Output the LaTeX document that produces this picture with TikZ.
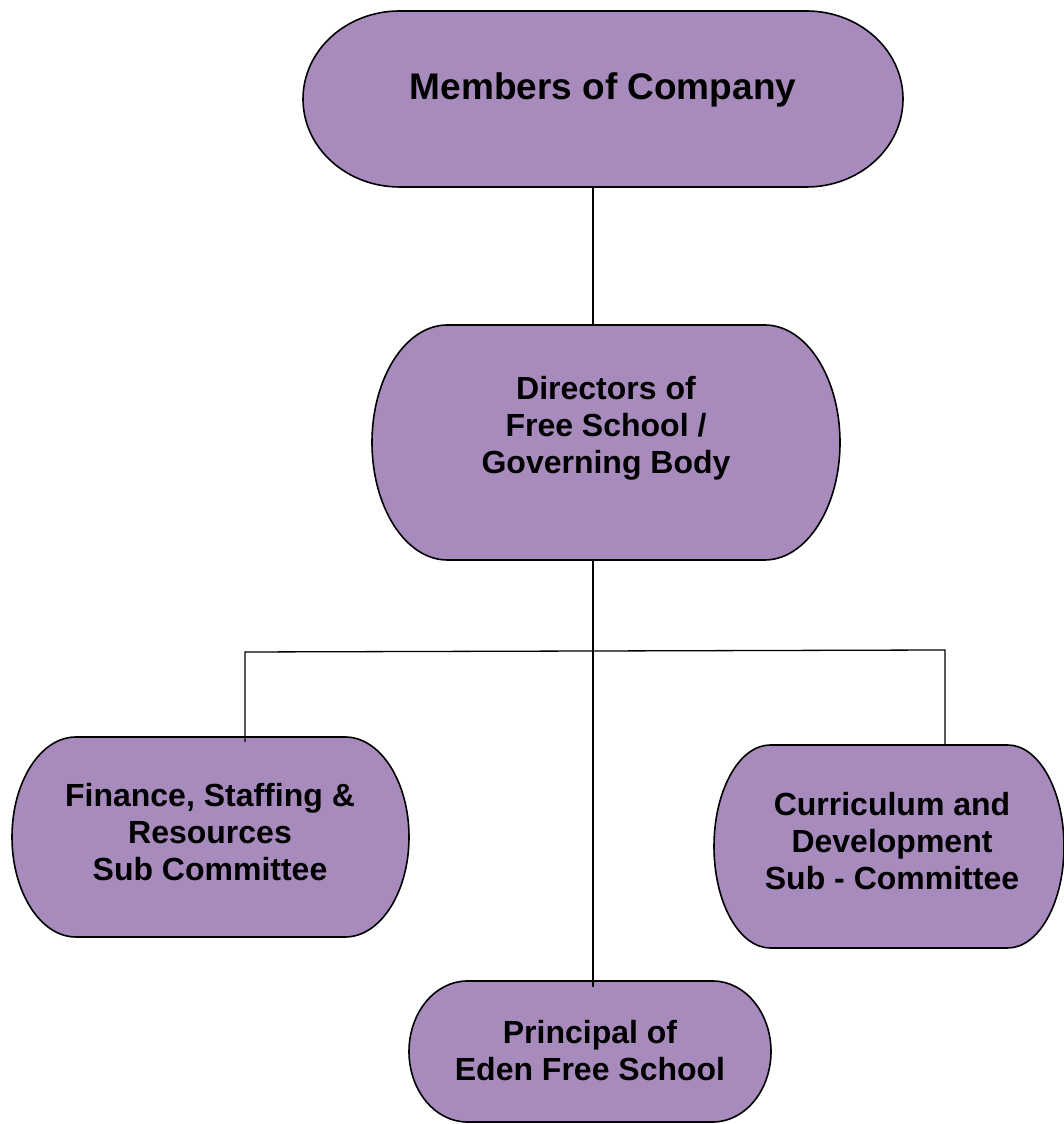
\documentclass[tikz,border=0pt]{standalone}
\usepackage{fontspec}
\setmainfont{Liberation Sans}
\usetikzlibrary{calc}
\definecolor{boxfill}{RGB}{168,139,189}
\tikzset{
  boxline/.style={draw=black, fill=boxfill, line width=1.6pt},
  frame/.style={draw=none, inner sep=0pt, outer sep=0pt},
  txt/.style={align=center, inner sep=0pt, font=\bfseries\fontsize{32}{37}\selectfont},
  bigtxt/.style={align=center, inner sep=0pt, font=\bfseries\fontsize{37}{42}\selectfont},
  conn/.style={draw=black, line width=1.3pt}
}
% name, cx, cy, w, h : terminator shape with half-ellipse ends
\newcommand\termbox[5]{%
  \pgfmathsetmacro\trx{0.161*#4}%
  \pgfmathsetmacro\try{#5/2}%
  \path[boxline] ({#2-#4/2+\trx},{#3+\try}) -- ({#2+#4/2-\trx},{#3+\try})
     arc[start angle=90, end angle=-90, x radius=\trx pt, y radius=\try pt]
     -- ({#2-#4/2+\trx},{#3-\try})
     arc[start angle=270, end angle=90, x radius=\trx pt, y radius=\try pt] -- cycle;
  \node[frame, minimum width=#4pt, minimum height=#5pt] (#1) at (#2,#3) {};
}
\begin{document}
\begin{tikzpicture}[x=1pt, y=1pt]
\useasboundingbox (0,0) rectangle (1063,1124);
\termbox{mem}{603}{1025}{600}{176}
\termbox{dir}{606}{681.5}{468}{235}
\termbox{fin}{210.5}{287}{397}{200}
\termbox{cur}{889}{277.5}{350}{203}
\termbox{pri}{590}{72.5}{362}{141}

\node[bigtxt] (memt) at (603,1034) {Members of Company};
\node[txt] (dirt) at (606,696) {Directors of\\Free School /\\Governing Body};
\node[txt] (fint) at (210,291.5) {Finance, Staffing \&\\Resources\\Sub Committee};
\node[txt] (curt) at (892,283) {Curriculum and\\Development\\Sub - Committee};
\node[txt] (prit) at (590,73.5) {Principal of\\Eden Free School};

\coordinate (hl) at (245,472);
\coordinate (hr) at (945,474);
\coordinate (sp) at (593,472);

\draw[conn] (mem.south -| sp) -- (dir.north -| sp);
\draw[conn] (dir.south -| sp) -- ($(pri.north -| sp)+(0,-6)$);
\draw[conn] ($(fin.north -| hl)+(0,-5)$) -- (hl) -- (hr) -- (hr |- cur.north);
\end{tikzpicture}
\end{document}
